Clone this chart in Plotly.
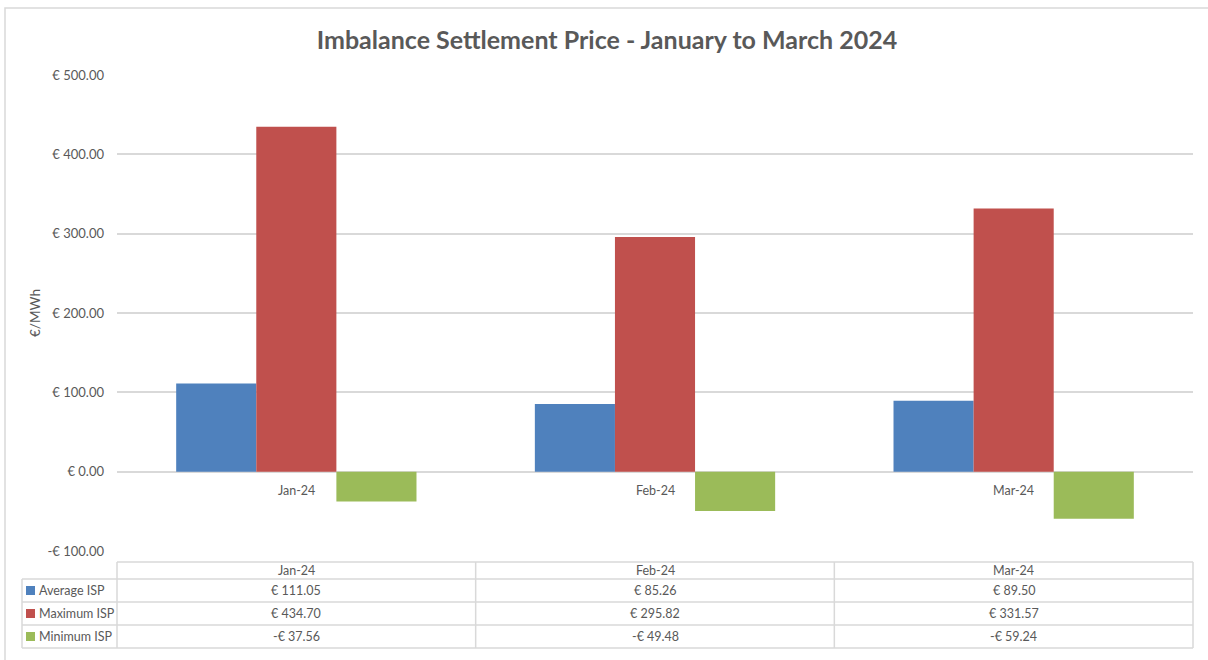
import plotly.graph_objects as go

categories = ["Jan-24", "Feb-24", "Mar-24"]
series_names = ["Average ISP", "Maximum ISP", "Minimum ISP"]
average_isp = [111.05, 85.26, 89.50]
maximum_isp = [434.70, 295.82, 331.57]
minimum_isp = [-37.56, -49.48, -59.24]
y_ticks = [-100, 0, 100, 200, 300, 400, 500]
colors = ["#4F81BD", "#C0504D", "#9BBB59"]

W, H = 1208, 660
L, R, T, B = 117, 1193, 75, 551  # plot area in px


def px(x):
    return (x - L) / (R - L)


def py(y):
    return (B - y) / (B - T)


def money(v):
    return ("-€ " if v < 0 else "€ ") + f"{abs(v):,.2f}"


FONT = "Lato, Calibri, Carlito, sans-serif"
GRAY = "#595959"
LINE = "#d9d9d9"

fig = go.Figure()
all_series = [average_isp, maximum_isp, minimum_isp]
for name, vals, col in zip(series_names, all_series, colors):
    fig.add_trace(go.Bar(x=categories, y=vals, name=name, marker=dict(color=col, line=dict(width=0))))

shapes = []
annotations = []

# outer chart border
shapes.append(dict(type="rect", xref="paper", yref="paper", x0=px(5), x1=px(1215), y0=py(670), y1=py(8),
                   line=dict(color=LINE, width=1.5), layer="below"))

# category labels near zero line
for c in categories:
    annotations.append(dict(x=c, y=0, xref="x", yref="y", text=c, showarrow=False, xanchor="center",
                            yanchor="middle", yshift=-19, font=dict(size=12.5, color=GRAY, family=FONT)))

# y-axis title
annotations.append(dict(x=px(35), y=py(313), xref="paper", yref="paper", text="€/MWh", textangle=-90,
                        xanchor="center", yanchor="middle",
                        showarrow=False, font=dict(size=13.5, color=GRAY, family=FONT)))

# data table
col_x = [L + (R - L) * i / 3 for i in range(4)]
row_y = [562, 579, 602, 625, 648]
lx = 22
tl = dict(color=LINE, width=1.5)
# horizontal lines
shapes.append(dict(type="line", xref="paper", yref="paper", x0=px(L), x1=px(R), y0=py(row_y[0]), y1=py(row_y[0]), line=tl))
for yy in row_y[1:]:
    shapes.append(dict(type="line", xref="paper", yref="paper", x0=px(lx), x1=px(R), y0=py(yy), y1=py(yy), line=tl))
# vertical lines
for xx in col_x:
    shapes.append(dict(type="line", xref="paper", yref="paper", x0=px(xx), x1=px(xx), y0=py(row_y[0]), y1=py(row_y[-1]), line=tl))
shapes.append(dict(type="line", xref="paper", yref="paper", x0=px(lx), x1=px(lx), y0=py(row_y[1]), y1=py(row_y[-1]), line=tl))

# header text
for i, c in enumerate(categories):
    annotations.append(dict(x=px((col_x[i] + col_x[i + 1]) / 2), y=py((row_y[0] + row_y[1]) / 2),
                            xref="paper", yref="paper", text=c, showarrow=False,
                            xanchor="center", yanchor="middle",
                            font=dict(size=12.5, color=GRAY, family=FONT)))
# rows
for r, (name, vals, col) in enumerate(zip(series_names, all_series, colors)):
    yc = (row_y[r + 1] + row_y[r + 2]) / 2
    shapes.append(dict(type="rect", xref="paper", yref="paper", x0=px(26), x1=px(35), y0=py(yc + 4.5), y1=py(yc - 4.5),
                       fillcolor=col, line=dict(width=0)))
    annotations.append(dict(x=px(37), y=py(yc), xref="paper", yref="paper", text=name, showarrow=False,
                            xanchor="left", yanchor="middle", font=dict(size=12.5, color=GRAY, family=FONT)))
    for i, v in enumerate(vals):
        annotations.append(dict(x=px((col_x[i] + col_x[i + 1]) / 2), y=py(yc), xref="paper", yref="paper",
                                text=money(v), showarrow=False, xanchor="center", yanchor="middle",
                                font=dict(size=12.5, color=GRAY, family=FONT)))

fig.update_layout(
    width=W, height=H,
    margin=dict(l=L, r=W - R, t=T, b=H - B),
    paper_bgcolor="white", plot_bgcolor="white",
    title=dict(text="<b>Imbalance Settlement Price - January to March 2024</b>", x=607 / W, xanchor="center",
               y=1 - 40 / H, yanchor="middle", font=dict(size=25, color=GRAY, family=FONT)),
    showlegend=False,
    barmode="group", bargap=0.33, bargroupgap=0,
    xaxis=dict(showticklabels=False, showgrid=False, zeroline=False, showline=False, ticks=""),
    yaxis=dict(range=[-100, 500], tickvals=y_ticks, ticktext=[money(v) for v in y_ticks],
               showgrid=True, gridcolor=LINE, gridwidth=1.5, zeroline=True, zerolinecolor=LINE, zerolinewidth=1.5,
               showline=False, ticks="", ticklabelstandoff=12,
               tickfont=dict(size=13, color=GRAY, family=FONT)),
    shapes=shapes, annotations=annotations,
)

fig.write_html("out.html", config={"displayModeBar": False},
               post_script="document.body.style.margin='0';")
